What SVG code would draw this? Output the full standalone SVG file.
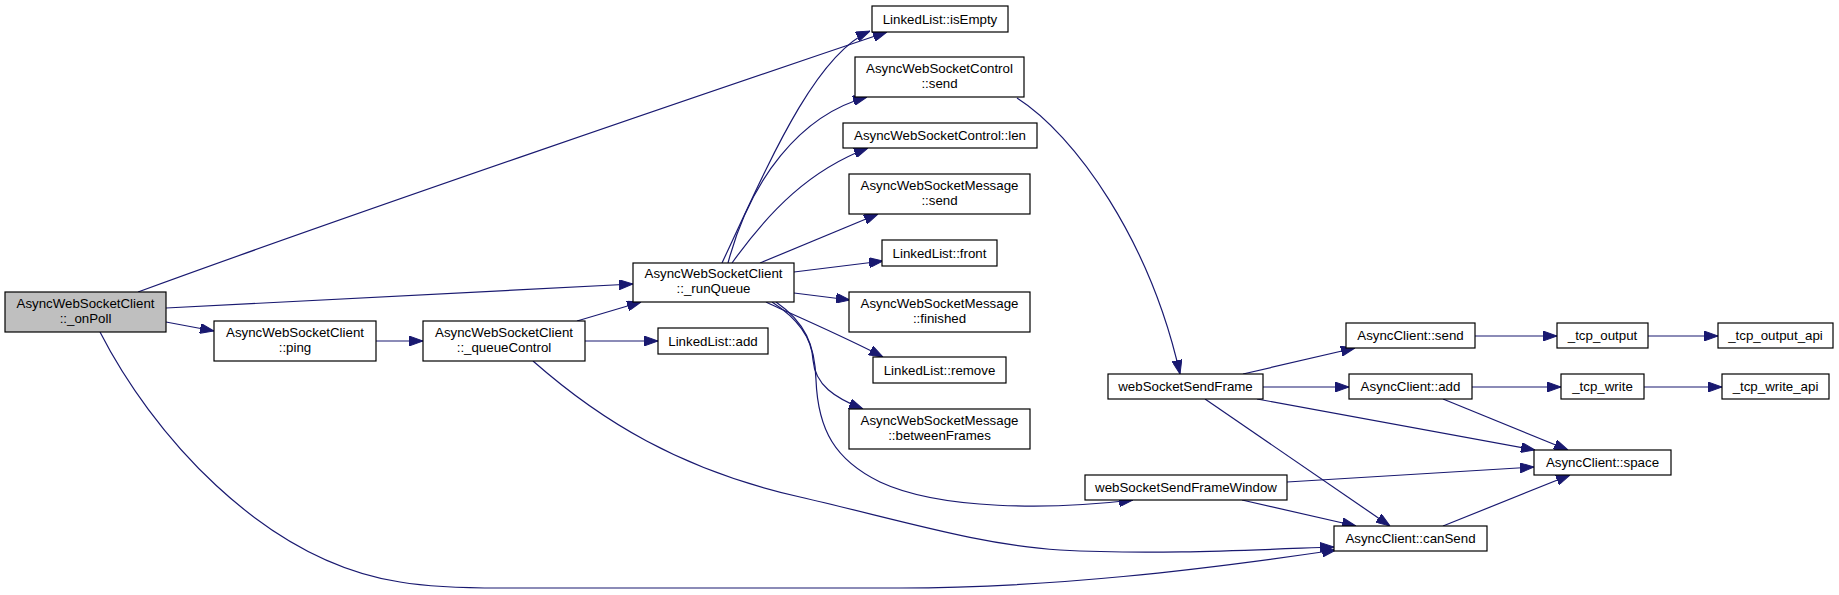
<svg xmlns="http://www.w3.org/2000/svg" width="1839" height="595" viewBox="0 0 1839 595">
<style>
.n rect{fill:#ffffff;stroke:#000000;stroke-width:1.2}
.n.root rect{fill:#bfbfbf}
.n text{font-family:"Liberation Sans",Arial,sans-serif;font-size:13.3px;fill:#000000;text-anchor:middle}
.e path{fill:none;stroke:#191970;stroke-width:1.2;marker-end:url(#ah)}
</style>
<defs>
<marker id="ah" markerUnits="userSpaceOnUse" markerWidth="14" markerHeight="10" refX="14" refY="5" orient="auto" viewBox="0 0 14 10">
<path d="M0,0 L14,5 L0,10 z" fill="#191970" stroke="#191970" stroke-width="1"/>
</marker>
</defs>
<rect width="1839" height="595" fill="#ffffff"/>
<g id="edges" class="e">
<path d="M138,292 C 340,218 700,95 887,32"/>
<path d="M166,308 L633,284"/>
<path d="M166,322 L214,331"/>
<path d="M100,332 C 150,430 260,560 400,582 C 430,587 460,588 500,588 L 900,588 C 1050,588 1200,570 1336,550"/>
<path d="M376,341 L423,341"/>
<path d="M577,321 L641,302"/>
<path d="M585,341 L658,341"/>
<path d="M533,361 C 600,420 680,470 800,497 C 900,520 980,545 1060,550 C 1150,555 1250,550 1334,547"/>
<path d="M722,263 C 770,160 815,55 870,31"/>
<path d="M728,263 C 750,180 800,115 867,97"/>
<path d="M732,263 C 770,210 810,170 868,148"/>
<path d="M760,263 L878,214"/>
<path d="M794,272 L883,261"/>
<path d="M794,293 L850,300"/>
<path d="M766,302 C 800,318 845,337 883,357"/>
<path d="M772,302 C 800,320 812,340 813,360 C 815,385 835,398 863,409"/>
<path d="M776,302 C 805,322 815,345 816,380 C 818,430 835,460 880,482 C 940,510 1050,510 1133,500"/>
<path d="M1017,98 C 1075,135 1150,240 1180,374"/>
<path d="M1243,374 L1355,348"/>
<path d="M1263,387 L1349,387"/>
<path d="M1257,399 L1535,450"/>
<path d="M1205,399 L1390,526"/>
<path d="M1287,482 L1534,467"/>
<path d="M1242,500 L1356,526"/>
<path d="M1475,336 L1557,336"/>
<path d="M1648,336 L1718,336"/>
<path d="M1472,387 L1561,387"/>
<path d="M1644,387 L1722,387"/>
<path d="M1443,399 L1568,450"/>
<path d="M1443,526 L1570,475"/>
</g>
<g id="node_onPoll" class="n root"><rect x="5" y="292" width="161" height="40"/><text x="85.5" y="307.5">AsyncWebSocketClient</text><text x="85.5" y="322.5">::_onPoll</text></g>
<g id="node_ping" class="n"><rect x="214" y="321" width="162" height="40"/><text x="295" y="336.5">AsyncWebSocketClient</text><text x="295" y="351.5">::ping</text></g>
<g id="node_queueControl" class="n"><rect x="423" y="321" width="162" height="40"/><text x="504" y="336.5">AsyncWebSocketClient</text><text x="504" y="351.5">::_queueControl</text></g>
<g id="node_runQueue" class="n"><rect x="633" y="263" width="161" height="39"/><text x="713.5" y="278">AsyncWebSocketClient</text><text x="713.5" y="293">::_runQueue</text></g>
<g id="node_listAdd" class="n"><rect x="658" y="328" width="110" height="26"/><text x="713" y="345.5">LinkedList::add</text></g>
<g id="node_isEmpty" class="n"><rect x="872" y="6" width="136" height="26"/><text x="940" y="23.5">LinkedList::isEmpty</text></g>
<g id="node_ctrlSend" class="n"><rect x="855" y="57" width="169" height="40"/><text x="939.5" y="72.5">AsyncWebSocketControl</text><text x="939.5" y="87.5">::send</text></g>
<g id="node_ctrlLen" class="n"><rect x="843" y="123" width="194" height="25"/><text x="940" y="140">AsyncWebSocketControl::len</text></g>
<g id="node_msgSend" class="n"><rect x="849" y="174" width="181" height="40"/><text x="939.5" y="189.5">AsyncWebSocketMessage</text><text x="939.5" y="204.5">::send</text></g>
<g id="node_front" class="n"><rect x="882" y="240" width="115" height="26"/><text x="939.5" y="257.5">LinkedList::front</text></g>
<g id="node_finished" class="n"><rect x="849" y="292" width="181" height="40"/><text x="939.5" y="307.5">AsyncWebSocketMessage</text><text x="939.5" y="322.5">::finished</text></g>
<g id="node_remove" class="n"><rect x="873" y="357" width="133" height="26"/><text x="939.5" y="374.5">LinkedList::remove</text></g>
<g id="node_betweenFrames" class="n"><rect x="849" y="409" width="181" height="40"/><text x="939.5" y="424.5">AsyncWebSocketMessage</text><text x="939.5" y="439.5">::betweenFrames</text></g>
<g id="node_sendFrame" class="n"><rect x="1108" y="374" width="155" height="25"/><text x="1185.5" y="391">webSocketSendFrame</text></g>
<g id="node_sendFrameWindow" class="n"><rect x="1085" y="475" width="202" height="25"/><text x="1186" y="492">webSocketSendFrameWindow</text></g>
<g id="node_acSend" class="n"><rect x="1346" y="323" width="129" height="25"/><text x="1410.5" y="340">AsyncClient::send</text></g>
<g id="node_acAdd" class="n"><rect x="1349" y="374" width="123" height="25"/><text x="1410.5" y="391">AsyncClient::add</text></g>
<g id="node_acSpace" class="n"><rect x="1534" y="450" width="137" height="25"/><text x="1602.5" y="467">AsyncClient::space</text></g>
<g id="node_acCanSend" class="n"><rect x="1334" y="526" width="153" height="25"/><text x="1410.5" y="543">AsyncClient::canSend</text></g>
<g id="node_tcpOutput" class="n"><rect x="1557" y="323" width="91" height="25"/><text x="1602.5" y="340">_tcp_output</text></g>
<g id="node_tcpOutputApi" class="n"><rect x="1718" y="323" width="115" height="25"/><text x="1775.5" y="340">_tcp_output_api</text></g>
<g id="node_tcpWrite" class="n"><rect x="1561" y="374" width="83" height="25"/><text x="1602.5" y="391">_tcp_write</text></g>
<g id="node_tcpWriteApi" class="n"><rect x="1722" y="374" width="107" height="25"/><text x="1775.5" y="391">_tcp_write_api</text></g>
</svg>
